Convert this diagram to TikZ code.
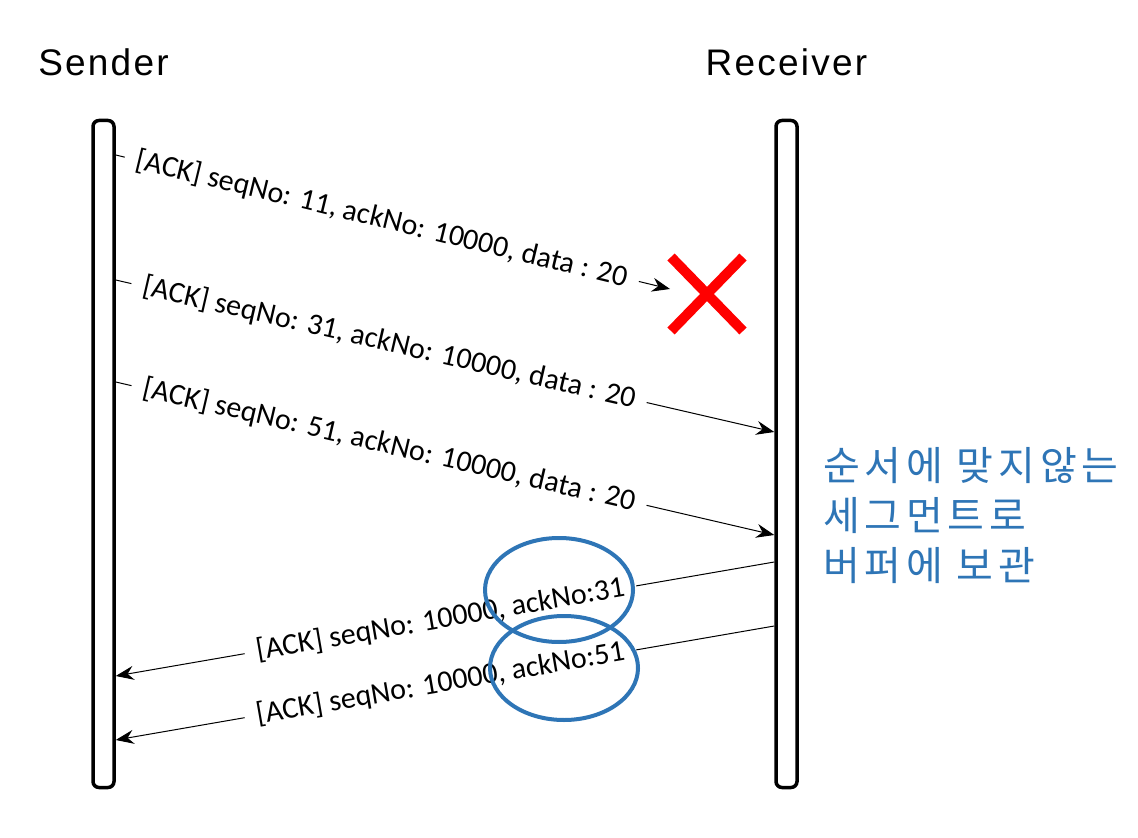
\documentclass[tikz,border=0pt]{standalone}
\usepackage{fontspec}
\setmainfont{Carlito}
\newfontfamily\headfont[LetterSpace=6]{Liberation Sans}
\newfontfamily\kofont[LetterSpace=12]{Noto Sans CJK KR}
\usetikzlibrary{positioning,arrows.meta,shapes.geometric,shapes.misc}
\definecolor{lostred}{RGB}{255,0,0}
\definecolor{noteblue}{RGB}{46,117,182}

\begin{document}
\begin{tikzpicture}[x=0.5pt, y=-0.5pt,
  font=\fontsize{15}{18}\selectfont,
  lifeline/.style={draw, line width=1.75pt, rounded corners=3pt,
                   minimum width=10.5pt, minimum height=333.5pt, inner sep=0pt},
  head/.style={font=\headfont\fontsize{18.5}{21}\selectfont},
  msg/.style={-{Stealth[length=9pt, width=7pt, inset=3pt]}, line width=0.5pt},
  lbl/.style={sloped, fill=white, inner xsep=6pt, inner ysep=1pt},
  ring/.style={ellipse, draw=noteblue, line width=2pt,
               minimum width=74pt, minimum height=52pt},
  note/.style={text=noteblue, align=left,
               font=\kofont\fontsize{20}{25}\selectfont}
]
\useasboundingbox (0,0) rectangle (1138,838);

\node[lifeline] (sbar) at (103.5,454) {};
\node[lifeline] (rbar) at (786.5,454) {};
\node[head, above=18pt of sbar] (snd) {Sender};
\node[head, above=18pt of rbar] (rcv) {Receiver};

%% segment lost on the way
\node[cross out, draw=lostred, line width=5pt, inner sep=0pt,
      minimum width=31pt, minimum height=32pt] (lost) at (707,294) {};

\coordinate (s1) at (sbar.east |- 0,155);
\coordinate (drop) at (670,289);
\coordinate (s2) at (sbar.east |- 0,280);
\coordinate (r2) at (rbar.west |- 0,432);
\coordinate (s3) at (sbar.east |- 0,382);
\coordinate (r3) at (rbar.west |- 0,535);
\coordinate (r4) at (rbar.west |- 0,562);
\coordinate (s4) at (sbar.east |- 0,676);
\coordinate (r5) at (rbar.west |- 0,626);
\coordinate (s5) at (sbar.east |- 0,740);

\draw[msg] (s1) -- node[lbl, pos=0.48] {[ACK] seqNo: 11, ackNo: 10000, data : 20} (drop);
\draw[msg] (s2) -- node[lbl, pos=0.415] {[ACK] seqNo: 31, ackNo: 10000, data : 20} (r2);
\draw[msg] (s3) -- node[lbl, pos=0.415] {[ACK] seqNo: 51, ackNo: 10000, data : 20} (r3);
\draw[msg] (r4) -- node[lbl, pos=0.507] {[ACK] seqNo: 10000, ackNo:31} (s4);
\draw[msg] (r5) -- node[lbl, pos=0.507] {[ACK] seqNo: 10000, ackNo:51} (s5);

%% duplicate acks marked
\node[ring] (ack31) at (559,590) {};
\node[ring] (ack51) at (564,668) {};

\node[note, anchor=west] (buf) at (816,516) {순서에 맞지않는\\세그먼트로\\버퍼에 보관};
\end{tikzpicture}
\end{document}
